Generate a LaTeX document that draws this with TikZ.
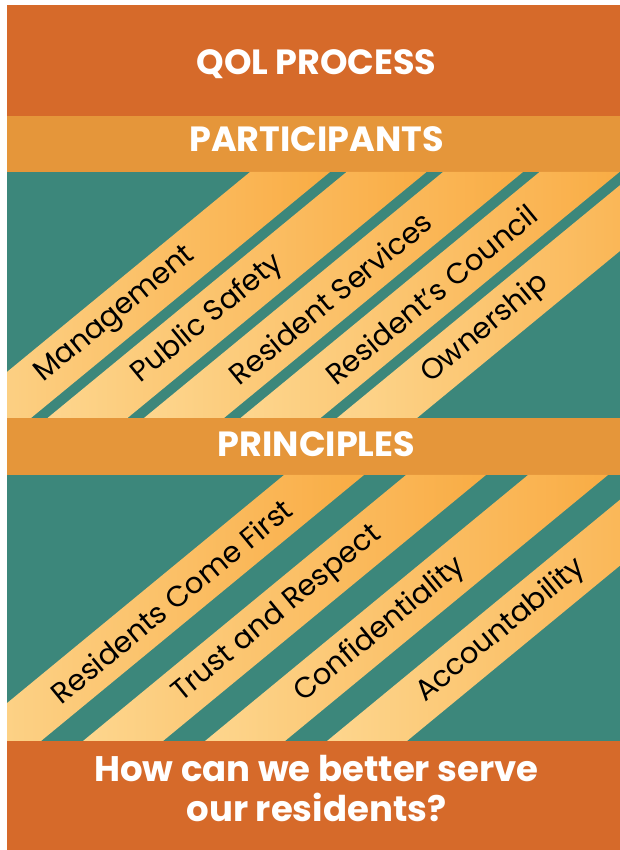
\documentclass[tikz,border=0pt]{standalone}
\usepackage{fontspec}
\setmainfont{Poppins}
\definecolor{qolrust}{RGB}{214,106,42}
\definecolor{qolband}{RGB}{229,150,58}
\definecolor{qolteal}{RGB}{60,135,123}
\definecolor{qolorange}{RGB}{249,172,68}
\definecolor{qolpale}{RGB}{253,214,142}

\begin{document}
\begin{tikzpicture}[x=1pt, y=1pt,
    heading/.style={text=white, inner sep=0pt, font=\bfseries\fontsize{35}{40}\selectfont},
    stripefill/.style={left color=qolpale, middle color=qolorange!90!qolpale, right color=qolorange},
    stripetext/.style={rotate=39.4, anchor=west, inner sep=0pt, font=\fontsize{29}{34}\selectfont}]
    % Page with its white margin
    \useasboundingbox (0,0) rectangle (620,850);
    \fill[white] (0,0) rectangle (620,850);

    % Bands
    \fill[qolrust] (7,734) rectangle (620,845);
    \fill[qolband] (7,678) rectangle (620,734);
    \fill[qolteal] (7,432) rectangle (620,678);
    \fill[qolband] (7,375) rectangle (620,432);
    \fill[qolteal] (7,109) rectangle (620,375);
    \fill[qolrust] (7,0) rectangle (620,109);

    % Participant stripes
    \begin{scope}
        \clip (7,432) rectangle (620,678);
        \foreach \k in {0,...,4}
            \shade[stripefill] ({-49+96.5*\k},432) -- ++(80,0) -- ++(299,246) -- ++(-80,0) -- cycle;
    \end{scope}

    % Principle stripes
    \begin{scope}
        \clip (7,109) rectangle (620,375);
        \foreach \k in {0,...,3}
            \shade[stripefill] ({-39+122*\k},109) -- ++(80,0) -- ++(323,266) -- ++(-80,0) -- cycle;
    \end{scope}

    % Headings
    \node[heading, anchor=base] (title) at (316.5,775) {QOL PROCESS};
    \node[heading, anchor=base] (participants) at (316.5,698) {PARTICIPANTS};
    \node[heading, anchor=base] (principles) at (316.5,393) {PRINCIPLES};
    \node[heading, anchor=north, align=center, font=\bfseries\fontsize{35.5}{40}\selectfont]
        (question) at (316.5,95) {How can we better serve\\our residents?};

    % Stripe labels
    \foreach \k/\name in {0/Management, 1/Public Safety, 2/Resident Services, 3/Resident’s Council, 4/Ownership}
        \node[stripetext] (part\k) at ({39.6+96.5*\k},472) {\name};
    \foreach \k/\name in {0/Residents Come First, 1/Trust and Respect, 2/Confidentiality, 3/Accountability}
        \node[stripetext] (prin\k) at ({54.5+122*\k},153) {\name};
\end{tikzpicture}
\end{document}
